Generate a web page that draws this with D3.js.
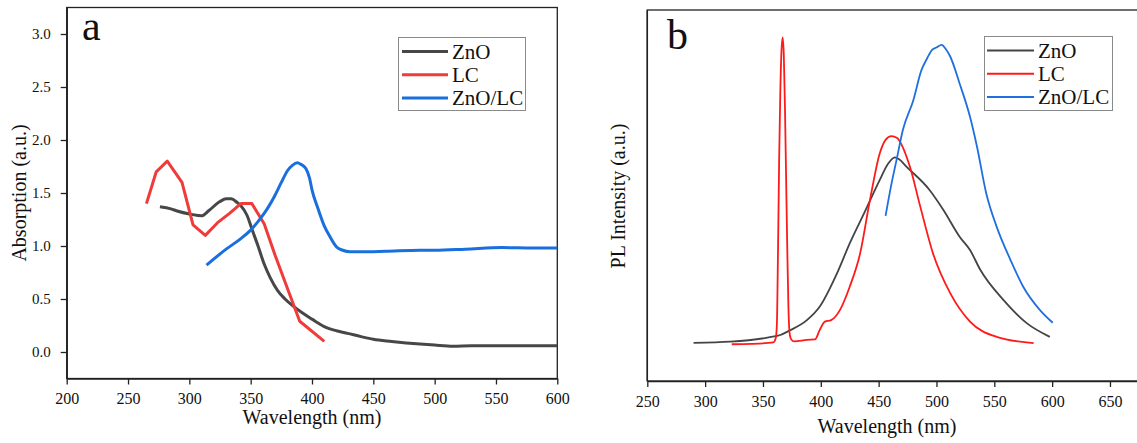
<!DOCTYPE html>
<html>
<head>
<meta charset="utf-8">
<script src="https://cdn.jsdelivr.net/npm/d3@7"></script>
<style>
  body { margin: 0; background: #fff; }
  svg text { font-family: "Liberation Serif", serif; fill: #111; }
</style>
</head>
<body>
<svg width="1137" height="443"></svg>
<script>
// ---- panel a: absorption (wavelength nm, absorbance a.u.)
var absZnO = [[276,1.37],[285,1.35],[290,1.33],[301,1.30],[310,1.285],[316,1.335],[325,1.42],[330,1.445],[334,1.445],[339,1.41],[342,1.38],[347,1.29],[351,1.16],[356,1.00],[361,0.83],[366,0.70],[372,0.58],[378,0.50],[385,0.43],[392,0.37],[400,0.31],[410,0.24],[420,0.20],[429,0.176],[440,0.145],[450,0.12],[465,0.10],[488,0.075],[500,0.065],[515,0.055],[530,0.06],[550,0.06],[575,0.06],[600,0.06]];
var absLC = [[265,1.40],[273,1.70],[282,1.80],[294,1.60],[303,1.20],[313,1.10],[323,1.22],[333,1.31],[342,1.40],[351,1.40],[361,1.21],[370,0.91],[380,0.60],[390,0.29],[410,0.10]];
var absMix = [[314,0.82],[330,0.97],[342,1.07],[350,1.15],[358,1.26],[364,1.36],[369,1.46],[375,1.60],[380,1.71],[384,1.76],[388,1.785],[391,1.77],[395,1.73],[398,1.64],[400,1.53],[405,1.35],[410,1.19],[415,1.08],[420,0.99],[425,0.96],[431,0.945],[440,0.945],[460,0.95],[488,0.96],[500,0.96],[525,0.97],[555,0.985],[580,0.98],[600,0.98]];

// ---- panel b: photoluminescence (wavelength nm, normalised intensity)
var plZnO = [[290,0.103],[322,0.106],[356,0.118],[365,0.124],[373,0.136],[388,0.164],[399,0.200],[414,0.290],[425,0.371],[438,0.456],[451,0.542],[458,0.585],[464,0.603],[468,0.597],[474,0.578],[494,0.515],[506,0.461],[520,0.389],[529,0.353],[538,0.299],[558,0.218],[578,0.156],[598,0.119]];
var plLC = [[323,0.099],[340,0.100],[359,0.104],[361,0.115],[362,0.15],[363,0.35],[364,0.60],[365,0.78],[366,0.89],[367,0.926],[368,0.88],[369,0.74],[370,0.55],[371,0.36],[372,0.20],[373,0.13],[374.5,0.112],[377,0.107],[388,0.111],[395,0.112],[399,0.137],[403.5,0.160],[409,0.164],[416.5,0.191],[425,0.254],[434,0.344],[442.5,0.488],[451,0.614],[456,0.650],[461,0.660],[466,0.655],[470,0.636],[477,0.578],[486,0.470],[497,0.344],[512,0.236],[529,0.160],[552,0.119],[584,0.102]];
var plMix = [[456,0.445],[461,0.53],[465.5,0.596],[471,0.677],[480,0.757],[487,0.838],[492,0.870],[496,0.892],[500,0.899],[504.5,0.906],[508,0.895],[512,0.874],[520,0.802],[529,0.712],[535,0.632],[543,0.506],[552,0.416],[564,0.326],[575,0.254],[589.5,0.191],[600.5,0.157]];

var seriesNames = ["ZnO", "LC", "ZnO/LC"];
var colorsA = ["#474747", "#f03b3b", "#1a6fdf"];
var colorsB = ["#444444", "#ff1a1a", "#1f6fe0"];
var serif = "'Liberation Serif', serif";

var svg = d3.select("svg");

function drawLines(g, x, y, sets, colors, width, curves) {
  sets.forEach(function(s, i) {
    var line = d3.line()
      .curve(curves[i])
      .x(function(d) { return x(d[0]); })
      .y(function(d) { return y(d[1]); });
    g.append("path")
      .datum(s)
      .attr("fill", "none")
      .attr("stroke", colors[i])
      .attr("stroke-width", width)
      .attr("stroke-linejoin", "round")
      .attr("d", line);
  });
}

function drawLegend(g, x0, y0, w, h, colors, width, lx1, lx2) {
  g.append("rect")
    .attr("x", x0).attr("y", y0).attr("width", w).attr("height", h)
    .attr("fill", "#fff").attr("stroke", "#8a8a8a").attr("stroke-width", 1);
  seriesNames.forEach(function(n, i) {
    var yy = y0 + 14 + i * 23.3;
    g.append("line")
      .attr("x1", lx1).attr("x2", lx2).attr("y1", yy).attr("y2", yy)
      .attr("stroke", colors[i]).attr("stroke-width", width);
    g.append("text")
      .attr("x", lx2 + 4).attr("y", yy + 7)
      .style("font-family", serif)
      .style("font-size", "21px")
      .text(n);
  });
}

function styleAxis(a, size) {
  a.attr("font-family", null).attr("font-size", null);
  a.select(".domain").attr("stroke", "#222").attr("stroke-width", 1.5);
  a.selectAll(".tick line").attr("stroke", "#222").attr("stroke-width", 1.3);
  a.selectAll(".tick text").style("font-size", size).style("font-family", serif).attr("fill", "#111");
}

// ---------- panel a
var xa = d3.scaleLinear().domain([200, 600]).range([66.7, 557.3]);
var ya = d3.scaleLinear().domain([-0.25, 3.25]).range([378.5, 7.5]);
var ga = svg.append("g");

ga.append("rect")
  .attr("x", xa(200)).attr("y", ya(3.25))
  .attr("width", xa(600) - xa(200)).attr("height", ya(-0.25) - ya(3.25))
  .attr("fill", "none").attr("stroke", "#222").attr("stroke-width", 1.3);

var axA = ga.append("g")
  .attr("transform", "translate(0," + ya(-0.25) + ")")
  .call(d3.axisBottom(xa).tickValues(d3.range(200, 601, 50)).tickSize(6).tickPadding(8).tickSizeOuter(0));
var ayA = ga.append("g")
  .attr("transform", "translate(" + xa(200) + ",0)")
  .call(d3.axisLeft(ya).tickValues([0, 0.5, 1, 1.5, 2, 2.5, 3]).tickFormat(d3.format(".1f")).tickSize(6).tickPadding(10).tickSizeOuter(0));
styleAxis(axA, "16px");
styleAxis(ayA, "15px");

drawLines(ga, xa, ya, [absZnO, absLC, absMix], colorsA, 3,
  [d3.curveMonotoneX, d3.curveLinear, d3.curveMonotoneX]);
drawLegend(ga, 398.5, 37.5, 127, 73, colorsA, 3, 402, 448);

ga.append("text").attr("x", 82).attr("y", 40).style("font-family", serif).style("font-size", "42px").text("a");
ga.append("text").attr("x", 312).attr("y", 424).attr("text-anchor", "middle")
  .style("font-family", serif).style("font-size", "20px").text("Wavelength (nm)");
ga.append("text").attr("transform", "translate(26,193) rotate(-90)").attr("text-anchor", "middle")
  .style("font-family", serif).style("font-size", "20px").text("Absorption (a.u.)");

// ---------- panel b
var xb = d3.scaleLinear().domain([250, 700]).range([647.3, 1167.8]);
var yb = d3.scaleLinear().domain([0, 1]).range([381, 10]);
var gb = svg.append("g");

gb.append("rect")
  .attr("x", xb(250)).attr("y", yb(1))
  .attr("width", xb(700) - xb(250)).attr("height", yb(0) - yb(1))
  .attr("fill", "none").attr("stroke", "#222").attr("stroke-width", 1.3);

var axB = gb.append("g")
  .attr("transform", "translate(0," + yb(0) + ")")
  .call(d3.axisBottom(xb).tickValues(d3.range(250, 651, 50)).tickSize(6).tickPadding(9).tickSizeOuter(0));
styleAxis(axB, "16px");
gb.append("line").attr("x1", xb(250)).attr("x2", xb(250)).attr("y1", yb(1)).attr("y2", yb(0))
  .attr("stroke", "#222").attr("stroke-width", 1.5);

drawLines(gb, xb, yb, [plZnO, plLC, plMix], colorsB, 1.8,
  [d3.curveMonotoneX, d3.curveMonotoneX, d3.curveMonotoneX]);
drawLegend(gb, 984.5, 36.5, 128, 74, colorsB, 2, 987, 1034);

gb.append("text").attr("x", 667).attr("y", 49).style("font-family", serif).style("font-size", "42px").text("b");
gb.append("text").attr("x", 887).attr("y", 433).attr("text-anchor", "middle")
  .style("font-family", serif).style("font-size", "20px").text("Wavelength (nm)");
gb.append("text").attr("transform", "translate(625,196) rotate(-90)").attr("text-anchor", "middle")
  .style("font-family", serif).style("font-size", "20px").text("PL Intensity (a.u.)");
</script>
</body>
</html>
